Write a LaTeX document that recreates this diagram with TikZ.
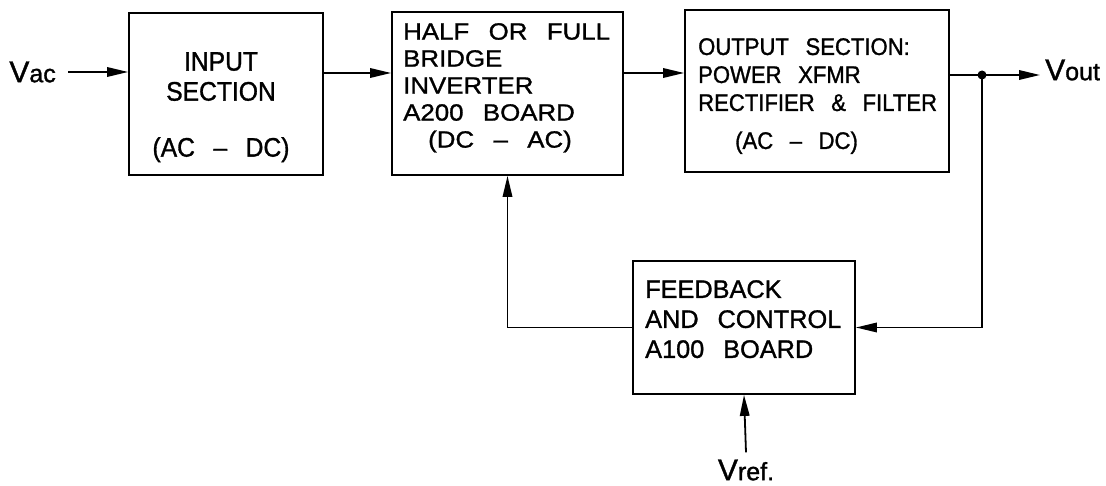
\documentclass[tikz,border=0pt]{standalone}
\usepackage{fontspec}
\setmainfont{Liberation Sans}[WordSpace=2.7, FakeBold=1.2]
\newfontfamily\narrowcad{Liberation Sans}[Ligatures=TeX, WordSpace=2.7, FakeStretch=0.92, FakeBold=1.2]
\newfontfamily\widecad{Liberation Sans}[Ligatures=TeX, WordSpace=2.7, FakeStretch=1.1, FakeBold=1.2]
\usetikzlibrary{arrows.meta}

\newcommand\signame[1]{V{\fontsize{25}{25}\selectfont #1}}

\begin{document}
\begin{tikzpicture}[x=1pt, y=-1pt,
    block/.style={draw=black, line width=1.8pt, inner sep=0pt},
    blocktext/.style={inner sep=0pt, align=left, anchor=north west},
    signal/.style={inner sep=0pt, font=\fontsize{30}{30}\selectfont},
    wire/.style={line width=1.8pt, -{Triangle[length=21pt, width=9.5pt]}},
    line/.style={line width=1.8pt}
]
    \useasboundingbox (0,0) rectangle (1106,486);
    % blocks
    \node[block, minimum width=194pt, minimum height=162pt] (input) at (226,94) {};
    \node[block, minimum width=231pt, minimum height=163pt] (inv) at (507.5,93.5) {};
    \node[block, minimum width=264pt, minimum height=162pt] (output) at (817,91) {};
    \node[block, minimum width=222pt, minimum height=133pt] (fb) at (744,327.5) {};
    % block texts
    \node[blocktext, align=center, anchor=north, font=\narrowcad\fontsize{26.8}{30}\selectfont]
        (input-txt) at (221,52) {INPUT\\SECTION\\[26pt](AC – DC)};
    \node[blocktext, font=\widecad\fontsize{23.5}{27}\selectfont] (inv-txt) at (403,23)
        {HALF OR FULL\\BRIDGE\\INVERTER\\A200 BOARD\\\hspace{25pt}(DC – AC)};
    \node[blocktext, font=\narrowcad\fontsize{24}{28}\selectfont] (output-txt) at (698,38)
        {OUTPUT SECTION:\\POWER XFMR\\RECTIFIER \& FILTER\\[10pt]\hspace{37pt}(AC – DC)};
    \node[blocktext, font=\fontsize{25.3}{30}\selectfont] (fb-txt) at (645,280)
        {FEEDBACK\\AND CONTROL\\A100 BOARD};
    % signals
    \node[signal, anchor=east] (vac) at (56,72) {\signame{ac}};
    \node[signal, anchor=west] (vout) at (1045,70) {\signame{out}};
    \node[signal] (vref) at (746,470) {\signame{ref.}};
    \coordinate (bus1) at (323,73);
    \coordinate (bus2) at (623,73);
    \coordinate (dot) at (982,75);
    % connectors
    \draw[wire] ([xshift=12pt]vac.east) -- (input.west |- vac.east);
    \draw[wire] (input.east |- bus1) -- (inv.west |- bus1);
    \draw[wire] (inv.east |- bus2) -- (output.west |- bus2);
    \draw[line] (output.east |- dot) -- (dot);
    \draw[wire] (dot) -- ([xshift=-5pt]vout.west |- dot);
    \fill (dot) circle (4.5pt);
    \draw[wire] (dot) |- (fb.east);
    \draw[wire] (fb.west) -| (inv.south);
    \draw[wire] ([yshift=7pt]vref.north) -- (fb.south);
\end{tikzpicture}
\end{document}
